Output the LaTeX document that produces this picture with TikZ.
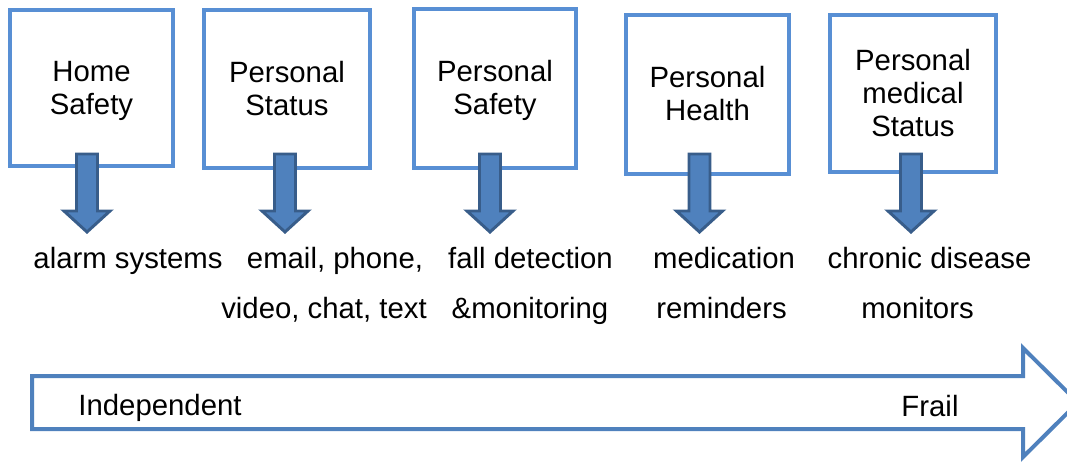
\documentclass[tikz,border=0pt]{standalone}
\usepackage{fontspec}
\setmainfont{Liberation Sans}
\usetikzlibrary{calc}
\definecolor{boxblue}{RGB}{88,143,212}
\definecolor{arrowfill}{RGB}{79,129,189}
\definecolor{arrowedge}{RGB}{56,93,138}
\definecolor{bandedge}{RGB}{79,129,189}
\tikzset{
  areabox/.style={draw=boxblue, line width=3pt, fill=white, align=center,
    inner sep=0pt, font=\fontsize{22}{24.75}\selectfont},
  itemlabel/.style={anchor=base, inner sep=0pt, font=\fontsize{22}{24}\selectfont},
  bandlabel/.style={anchor=base, inner sep=0pt, font=\fontsize{22}{24}\selectfont},
  downarrow/.style={fill=arrowfill, draw=arrowedge, line width=2.2pt, line join=miter},
  band/.style={draw=bandedge, line width=3pt, fill=white, line join=miter}
}
% block arrow pointing down from #1 to its tip #2
\newcommand\blockdown[2]{%
  \draw[downarrow] ($(#1)+(-10.5,0)$) -- ($(#2)+(-10.5,-21)$) -- ($(#2)+(-23,-21)$)
    -- (#2) -- ($(#2)+(23,-21)$) -- ($(#2)+(10.5,-21)$) -- ($(#1)+(10.5,0)$) -- cycle;}
% centred lines set slightly below the optical centre of the box
\newcommand\areatext[1]{\raisebox{-2.4pt}[\height][\depth]{\begin{tabular}{@{}c@{}}#1\end{tabular}}}
\begin{document}
\begin{tikzpicture}[x=0.75pt,y=-0.75pt]
\useasboundingbox (0,0) rectangle (1067,461);

% care areas
\node[areabox, minimum width=163*0.75pt, minimum height=156*0.75pt] (home)   at (91.5,88)  {\areatext{Home\\Safety}};
\node[areabox, minimum width=166*0.75pt, minimum height=158*0.75pt] (status) at (287,89)   {\areatext{Personal\\Status}};
\node[areabox, minimum width=162*0.75pt, minimum height=159*0.75pt] (safety) at (495,88.5) {\areatext{Personal\\Safety}};
\node[areabox, minimum width=163*0.75pt, minimum height=159*0.75pt] (health) at (707.5,94.5) {\areatext{Personal\\Health}};
\node[areabox, minimum width=166*0.75pt, minimum height=157*0.75pt] (medical) at (913,93.5) {\areatext{Personal\\medical\\Status}};

% technologies
\node[itemlabel] (alarm)  at (128,268) {alarm systems};
\node[itemlabel] (email)  at (335,268) {email, phone,};
\node[itemlabel] (video)  at (324,318) {video, chat, text};
\node[itemlabel] (fall)   at (530.5,268) {fall detection};
\node[itemlabel] (monit)  at (530,318) {\&monitoring};
\node[itemlabel] (medic)  at (724,268) {medication};
\node[itemlabel] (remind) at (721.5,318) {reminders};
\node[itemlabel] (chron)  at (929.5,268) {chronic disease};
\node[itemlabel] (mons)   at (917.5,318) {monitors};

% arrows from each area to its technology
\coordinate (h1) at (87,154);  \coordinate (h2) at (87,232);
\coordinate (s1) at (285,154); \coordinate (s2) at (285,232);
\coordinate (f1) at (490,154); \coordinate (f2) at (490,232);
\coordinate (m1) at (699.5,154); \coordinate (m2) at (699.5,232);
\coordinate (c1) at (911,154); \coordinate (c2) at (911,232);
\blockdown{h1}{h2}
\blockdown{s1}{s2}
\blockdown{f1}{f2}
\blockdown{m1}{m2}
\blockdown{c1}{c2}

% independence scale
\draw[band] (32,376) -- (1023,376) -- (1023,348) -- (1078,402.5) -- (1023,457)
  -- (1023,429) -- (32,429) -- cycle;
\node[bandlabel] (indep) at (160,415) {Independent};
\node[bandlabel] (frail) at (930,416) {Frail};
\end{tikzpicture}
\end{document}
